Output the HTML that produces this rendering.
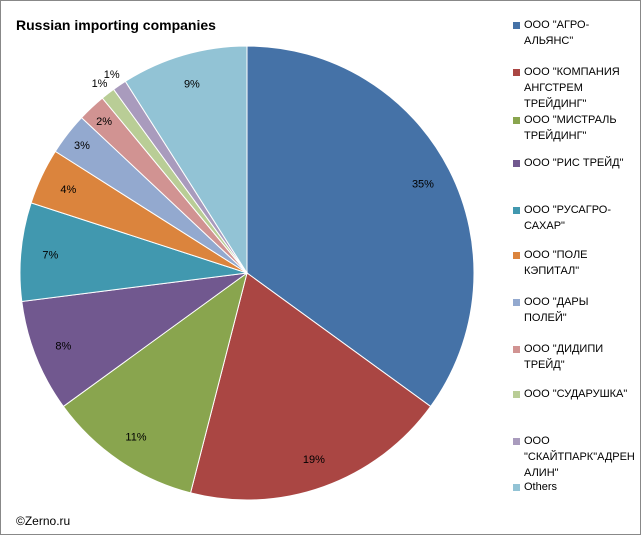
<!DOCTYPE html>
<html><head><meta charset="utf-8"><style>
body{margin:0;background:#fff}
#c{position:relative;width:641px;height:535px;box-sizing:border-box;border:1px solid #888;background:#fff;font-family:"Liberation Sans","DejaVu Sans",sans-serif;overflow:hidden}
.t{position:absolute;left:15px;top:16px;font-weight:bold;font-size:14px;color:#000}
.cp{position:absolute;left:15px;top:513px;font-size:12px;color:#000}
.lg{position:absolute;font-size:11px;color:#000;line-height:16px}
.mk{position:absolute;width:7px;height:7px}
</style></head><body>
<div id="c">
<div class="t">Russian importing companies</div>
<svg id="pie" width="641" height="535" style="position:absolute;left:0;top:0"></svg>
<div id="legend"></div>
<div class="cp">©Zerno.ru</div>
</div>
<script>
const categories=['ООО "АГРО-АЛЬЯНС"','ООО "КОМПАНИЯ АНГСТРЕМ ТРЕЙДИНГ"','ООО "МИСТРАЛЬ ТРЕЙДИНГ"','ООО "РИС ТРЕЙД"','ООО "РУСАГРО-САХАР"','ООО "ПОЛЕ КЭПИТАЛ"','ООО "ДАРЫ ПОЛЕЙ"','ООО "ДИДИПИ ТРЕЙД"','ООО "СУДАРУШКА"','ООО "СКАЙТПАРК"АДРЕНАЛИН"','Others'];
const values=[35,19,11,8,7,4,3,2,1,1,9];
const valueLabels=['35%','19%','11%','8%','7%','4%','3%','2%','1%','1%','9%'];
const colors=['#4572A7','#AA4643','#89A54E','#71588F','#4198AF','#DB843D','#93A9CF','#D19392','#B9CD96','#A99BBD','#92C3D5'];
const legendLines=[['ООО "АГРО-','АЛЬЯНС"'],['ООО "КОМПАНИЯ','АНГСТРЕМ','ТРЕЙДИНГ"'],['ООО "МИСТРАЛЬ','ТРЕЙДИНГ"'],['ООО "РИС ТРЕЙД"'],['ООО "РУСАГРО-','САХАР"'],['ООО "ПОЛЕ','КЭПИТАЛ"'],['ООО "ДАРЫ','ПОЛЕЙ"'],['ООО "ДИДИПИ','ТРЕЙД"'],['ООО "СУДАРУШКА"'],['ООО','"СКАЙТПАРК"АДРЕН','АЛИН"'],['Others']];
const legendTops=[16,63,111,154,201,246,293,340,385,432,478];
const cx=246,cy=272,r=227;
const NS='http://www.w3.org/2000/svg';
const svg=document.getElementById('pie');
const total=values.reduce((a,b)=>a+b,0);
let a=0;
function pt(ang,rad){return [cx+rad*Math.sin(ang),cy-rad*Math.cos(ang)];}
values.forEach((v,i)=>{
  const a0=a,a1=a+v/total*2*Math.PI;a=a1;
  const p0=pt(a0,r),p1=pt(a1,r);
  const large=(a1-a0)>Math.PI?1:0;
  const path=document.createElementNS(NS,'path');
  path.setAttribute('d',`M${cx},${cy}L${p0[0]},${p0[1]}A${r},${r} 0 ${large} 1 ${p1[0]},${p1[1]}Z`);
  path.setAttribute('fill',colors[i]);
  path.setAttribute('stroke','#fff');path.setAttribute('stroke-width','1');
  
  
  svg.appendChild(path);
  const mid=(a0+a1)/2;
  const rf=v<=1?1.06:(v<=3?0.92:0.87);
  const lp=pt(mid,r*rf);
  const tx=document.createElementNS(NS,'text');
  tx.setAttribute('x',lp[0]);tx.setAttribute('y',lp[1]+4);
  tx.setAttribute('text-anchor','middle');tx.setAttribute('font-size','11');
  tx.setAttribute('font-family','Liberation Sans, sans-serif');
  tx.textContent=valueLabels[i];
  
  
  svg.appendChild(tx);
});
const lg=document.getElementById('legend');
categories.forEach((c,i)=>{
  const m=document.createElement('div');
  m.className='mk';m.style.left='512px';m.style.top=(legendTops[i]+5)+'px';m.style.background=colors[i];
  
  
  lg.appendChild(m);
  const d=document.createElement('div');
  d.className='lg';d.style.left='523px';d.style.top=legendTops[i]+'px';
  d.innerHTML=legendLines[i].join('<br>');
  d.title=c;
  
  
  lg.appendChild(d);
});
</script>
</body></html>
